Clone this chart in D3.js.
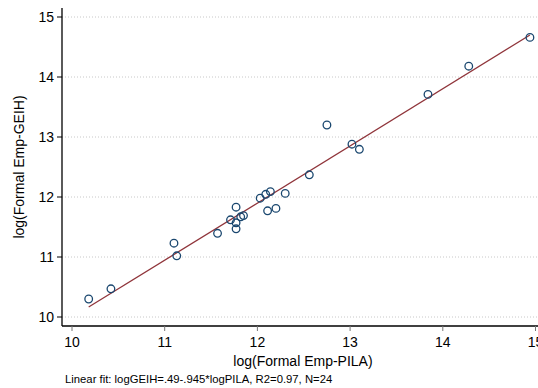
<!DOCTYPE html>
<html><head><meta charset="utf-8">
<script src="https://cdn.jsdelivr.net/npm/d3@7"></script>
<style>body{margin:0;background:#fff}svg{display:block}</style>
</head><body>
<svg id="c" width="538" height="388"></svg>
<script>
const logPILA = [10.18,10.42,11.10,11.13,11.57,11.71,11.77,11.77,11.77,11.82,11.85,12.03,12.09,12.14,12.11,12.20,12.30,12.56,12.75,13.02,13.10,13.84,14.28,14.94];
const logGEIH = [10.30,10.47,11.23,11.02,11.395,11.62,11.83,11.57,11.47,11.67,11.69,11.98,12.045,12.09,11.77,11.81,12.06,12.37,13.20,12.88,12.795,13.71,14.18,14.66];
const xTicks = [10,11,12,13,14,15];
const yTicks = [10,11,12,13,14,15];
const noteText = "Linear fit: logGEIH=.49-.945*logPILA, R2=0.97, N=24";

(function(){
const svg = d3.select("#c");
const font = "'Liberation Sans', Arial, Helvetica, sans-serif";
const x = d3.scaleLinear().domain([10,15]).range([72,535.5]);
const y = d3.scaleLinear().domain([10,15]).range([317,17]);
const pLeft = 62, pRight = 545, pTop = 8, pBottom = 326;

// gridlines
svg.append("g").selectAll("line").data(yTicks).join("line")
  .attr("x1", pLeft).attr("x2", pRight)
  .attr("y1", d=>y(d)).attr("y2", d=>y(d))
  .attr("stroke", "#c8c8c8").attr("stroke-width", 1)
  .attr("stroke-dasharray", "1,2");

// regression line (least squares)
const n = logPILA.length;
const mx = d3.mean(logPILA), my = d3.mean(logGEIH);
let sxy = 0, sxx = 0;
for (let i=0;i<n;i++){ sxy += (logPILA[i]-mx)*(logGEIH[i]-my); sxx += (logPILA[i]-mx)**2; }
const b = sxy/sxx, a = my - b*mx;
const x0 = d3.min(logPILA), x1 = d3.max(logPILA);
svg.append("line")
  .attr("x1", x(x0)).attr("y1", y(a+b*x0))
  .attr("x2", x(x1)).attr("y2", y(a+b*x1))
  .attr("stroke", "#90353b").attr("stroke-width", 1.3);

// points
svg.append("g").selectAll("circle").data(logPILA.map((v,i)=>[v,logGEIH[i]])).join("circle")
  .attr("cx", d=>x(d[0])).attr("cy", d=>y(d[1])).attr("r", 3.8)
  .attr("fill", "none").attr("stroke", "#1a476f").attr("stroke-width", 1.3);

// axes
const yAxis = svg.append("g");
yAxis.append("line").attr("x1", pLeft).attr("x2", pLeft).attr("y1", pTop).attr("y2", pBottom)
  .attr("stroke", "#000").attr("stroke-width", 1.3);
yAxis.selectAll(".t").data(yTicks).join("line").attr("class","t")
  .attr("x1", pLeft-5).attr("x2", pLeft).attr("y1", d=>y(d)).attr("y2", d=>y(d))
  .attr("stroke", "#000").attr("stroke-width", 1);
yAxis.selectAll("text").data(yTicks).join("text")
  .attr("x", pLeft-8).attr("y", d=>y(d)).attr("dy", "0.35em")
  .attr("text-anchor", "end").attr("font-family", font).attr("font-size", 14)
  .text(d=>d);

const xAxis = svg.append("g");
xAxis.append("line").attr("x1", pLeft).attr("x2", pRight).attr("y1", pBottom).attr("y2", pBottom)
  .attr("stroke", "#000").attr("stroke-width", 1.3);
xAxis.selectAll(".t").data(xTicks).join("line").attr("class","t")
  .attr("x1", d=>x(d)).attr("x2", d=>x(d)).attr("y1", pBottom).attr("y2", pBottom+5)
  .attr("stroke", "#777").attr("stroke-width", 1);
xAxis.selectAll("text").data(xTicks).join("text")
  .attr("x", d=>x(d)).attr("y", 347)
  .attr("text-anchor", "middle").attr("font-family", font).attr("font-size", 14)
  .text(d=>d);

// titles
svg.append("text").attr("x", 303).attr("y", 366).attr("text-anchor", "middle")
  .attr("font-family", font).attr("font-size", 14).text("log(Formal Emp-PILA)");
svg.append("text").attr("transform", "translate(24,167) rotate(-90)").attr("text-anchor", "middle")
  .attr("font-family", font).attr("font-size", 14).text("log(Formal Emp-GEIH)");
svg.append("text").attr("x", 65).attr("y", 383)
  .attr("font-family", font).attr("font-size", 11.3).text(noteText);
})();
</script>
</body></html>
